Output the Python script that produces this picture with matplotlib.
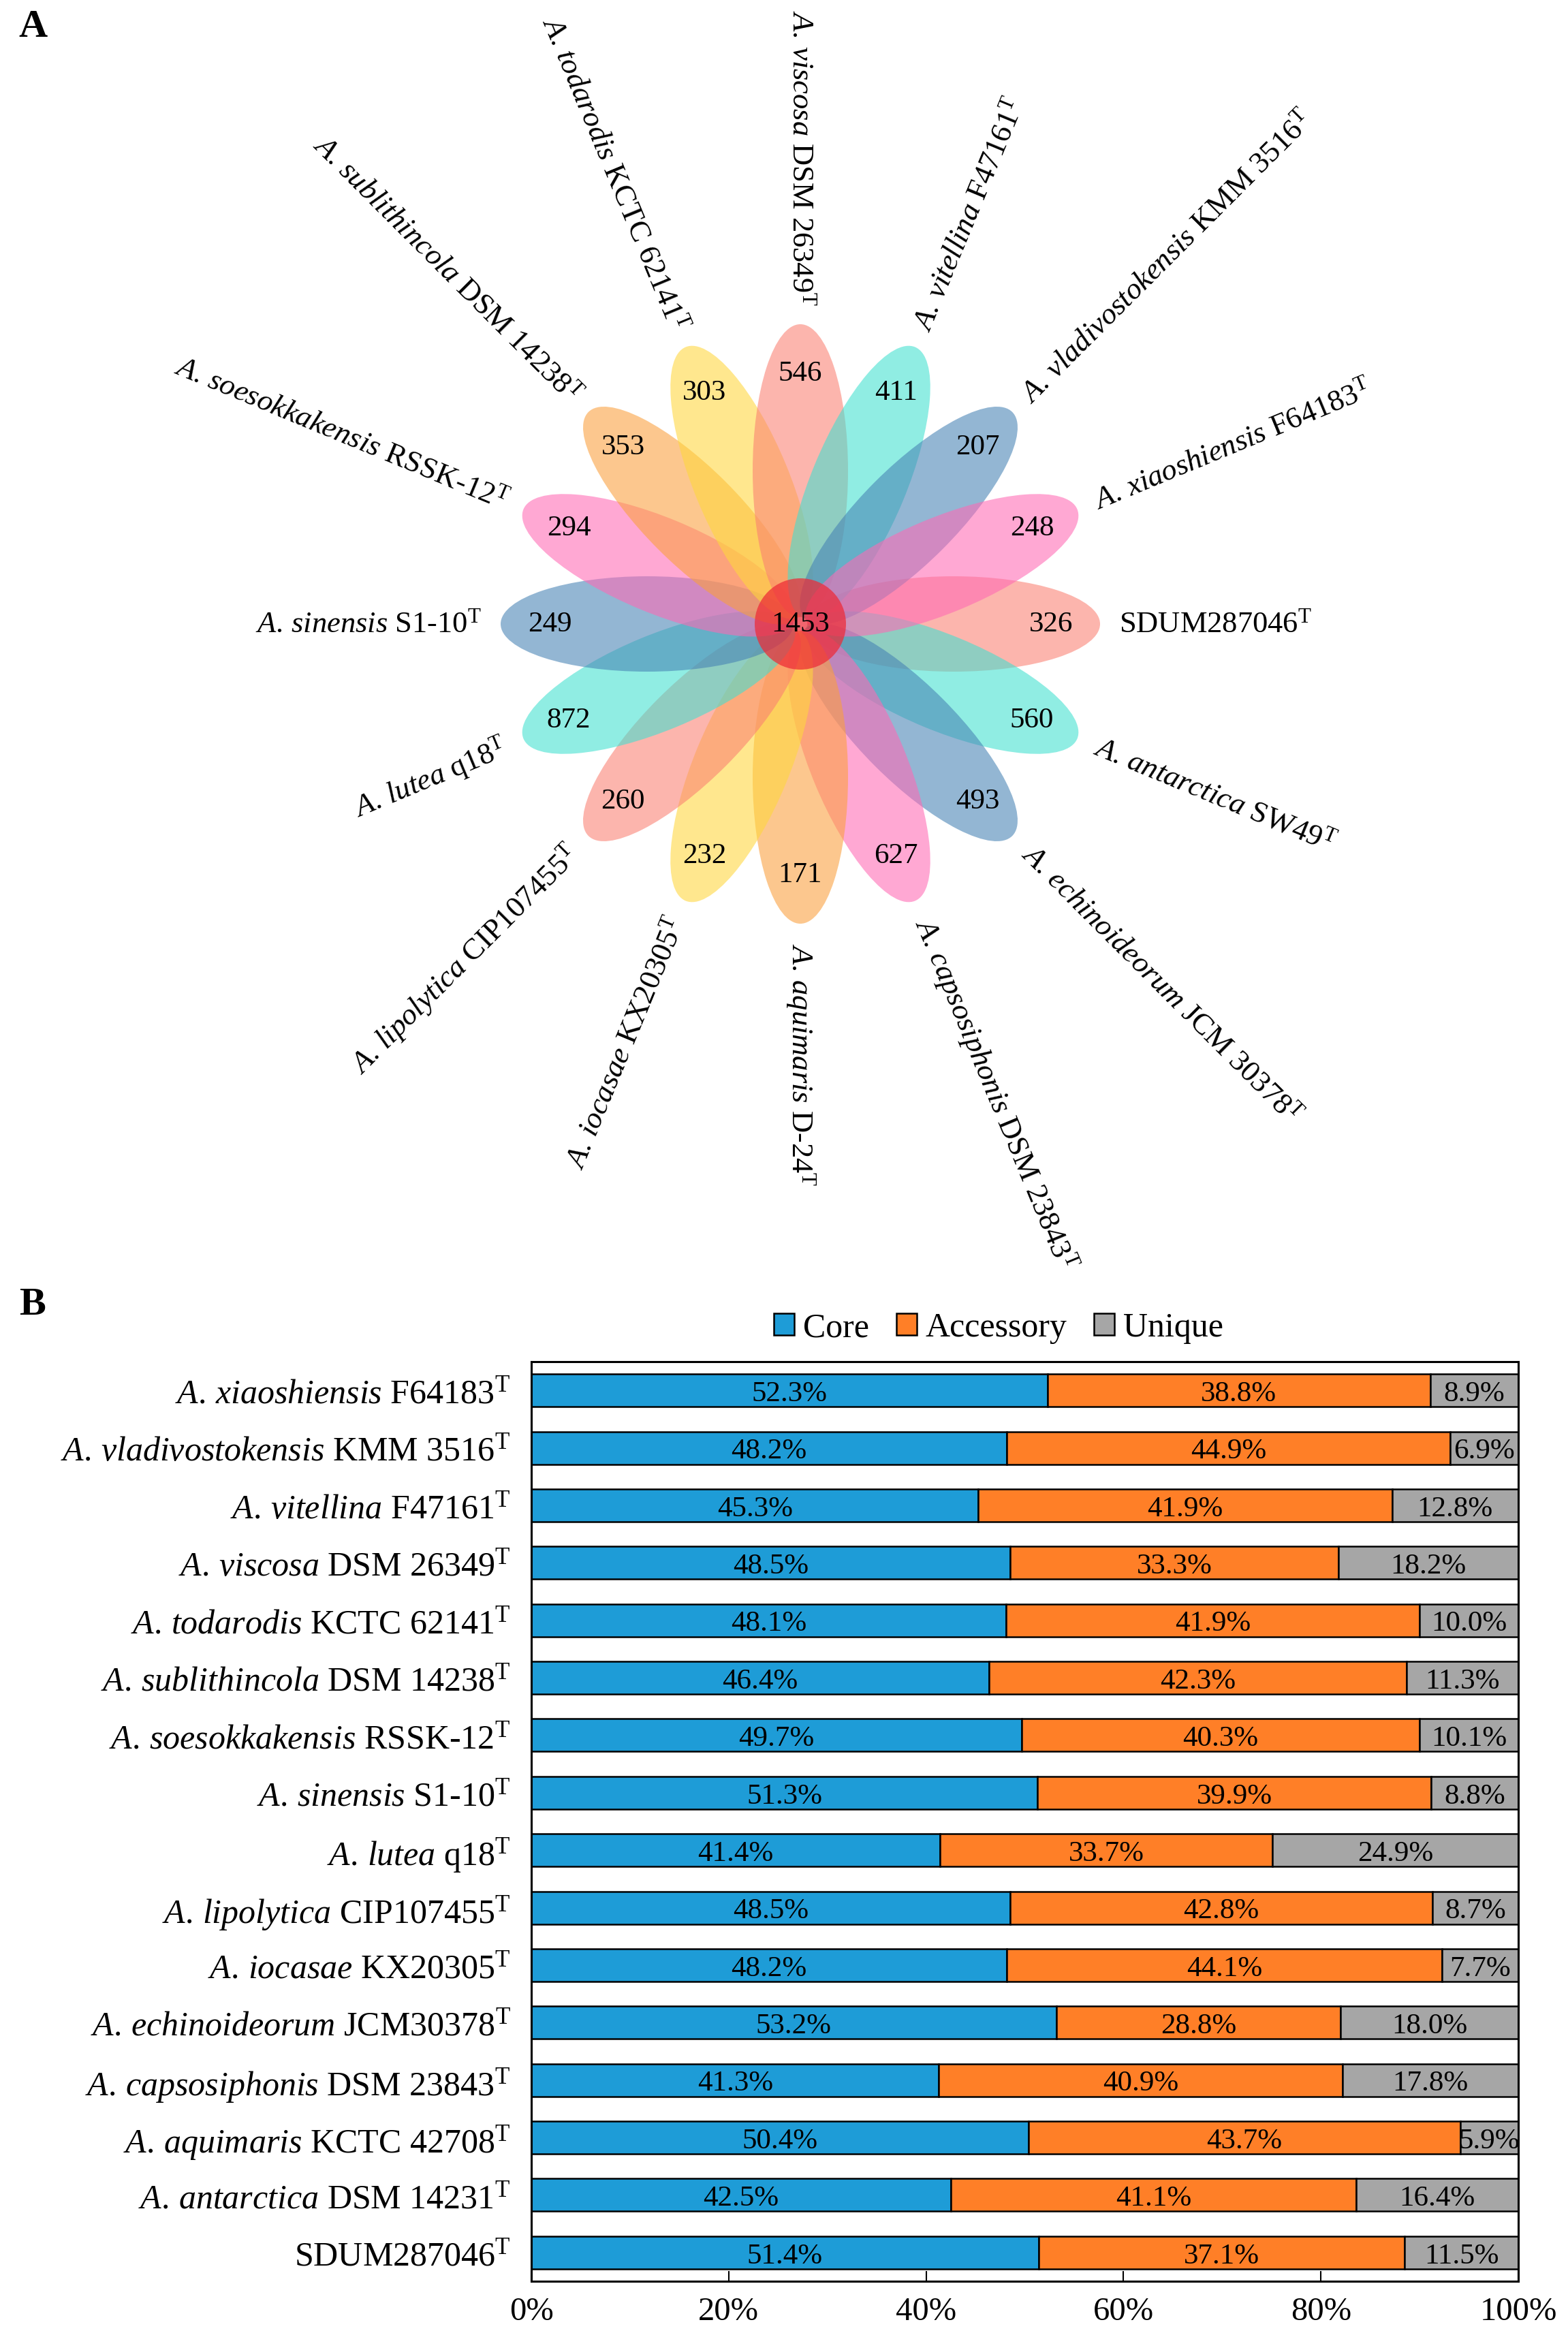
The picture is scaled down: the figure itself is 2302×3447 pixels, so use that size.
import numpy as np
import matplotlib
matplotlib.use("Agg")
import matplotlib.pyplot as plt
from matplotlib.patches import Ellipse, Circle, Patch

plt.rcParams['font.family'] = ['Liberation Serif', 'DejaVu Serif']
plt.rcParams['mathtext.fontset'] = 'custom'
plt.rcParams['mathtext.rm'] = 'Liberation Serif'
plt.rcParams['mathtext.it'] = 'Liberation Serif:italic'
plt.rcParams['mathtext.bf'] = 'Liberation Serif:bold'

# ---------------- data: panel A (flower), clockwise from SDUM287046 ----------------
flower_species = [None, "antarctica", "echinoideorum", "capsosiphonis", "aquimaris",
                  "iocasae", "lipolytica", "lutea", "sinensis", "soesokkakensis",
                  "sublithincola", "todarodis", "viscosa", "vitellina",
                  "vladivostokensis", "xiaoshiensis"]
flower_strains = ["SDUM287046", "SW49", "JCM 30378", "DSM 23843", "D-24",
                  "KX20305", "CIP107455", "q18", "S1-10", "RSSK-12",
                  "DSM 14238", "KCTC 62141", "DSM 26349", "F47161",
                  "KMM 3516", "F64183"]
flower_unique = [326, 560, 493, 627, 171, 232, 260, 872, 249, 294, 353, 303, 546, 411, 207, 248]
core_count = 1453
petal_palette = ["#FA8072", "#40E0D0", "#4682B4", "#FF69B4", "#FAA03C", "#FFD73C"]

# ---------------- data: panel B (stacked bars), top to bottom ----------------
bar_species = ["xiaoshiensis", "vladivostokensis", "vitellina", "viscosa", "todarodis",
               "sublithincola", "soesokkakensis", "sinensis", "lutea", "lipolytica",
               "iocasae", "echinoideorum", "capsosiphonis", "aquimaris", "antarctica", None]
bar_strains = ["F64183", "KMM 3516", "F47161", "DSM 26349", "KCTC 62141",
               "DSM 14238", "RSSK-12", "S1-10", "q18", "CIP107455",
               "KX20305", "JCM30378", "DSM 23843", "KCTC 42708", "DSM 14231", "SDUM287046"]
core = [52.3, 48.2, 45.3, 48.5, 48.1, 46.4, 49.7, 51.3, 41.4, 48.5, 48.2, 53.2, 41.3, 50.4, 42.5, 51.4]
accessory = [38.8, 44.9, 41.9, 33.3, 41.9, 42.3, 40.3, 39.9, 33.7, 42.8, 44.1, 28.8, 40.9, 43.7, 41.1, 37.1]
unique = [8.9, 6.9, 12.8, 18.2, 10.0, 11.3, 10.1, 8.8, 24.9, 8.7, 7.7, 18.0, 17.8, 5.9, 16.4, 11.5]
series_names = ["Core", "Accessory", "Unique"]
series_colors = ["#1E9CD7", "#FF7F27", "#A6A6A6"]
xticks = [0, 20, 40, 60, 80, 100]


def label(sp, strain):
    sup = r"$^{\mathrm{T}}$"
    if sp is None:
        return strain + sup
    return r"$\mathit{A.\," + sp + "}$ " + strain + sup


W, H = 2302, 3448
fig = plt.figure(figsize=(W / 100, H / 100), dpi=100)
fig.patch.set_facecolor("white")

# ---------------- panel A ----------------
axA = fig.add_axes([0, 0, 1, 1])
axA.set_xlim(0, W)
axA.set_ylim(H, 0)
axA.axis("off")

cx, cy = 1175, 917
d_center, a_semi, b_semi = 225, 215, 70
r_num, r_lab = 368, 468
n = len(flower_unique)
for i in range(n):
    theta = -360.0 / n * i  # clockwise
    t = np.deg2rad(theta)
    ux, uy = np.cos(t), -np.sin(t)
    col = petal_palette[i % len(petal_palette)]
    axA.add_patch(Ellipse((cx + d_center * ux, cy + d_center * uy), 2 * a_semi, 2 * b_semi,
                          angle=-theta, facecolor=col, edgecolor="none", alpha=0.58, zorder=2))
for i in range(n):
    theta = (-360.0 / n * i) % 360
    t = np.deg2rad(theta)
    ux, uy = np.cos(t), -np.sin(t)
    axA.text(cx + r_num * ux, cy + r_num * uy, str(flower_unique[i]), fontsize=31,
             ha="center", va="center", zorder=5)
    if 90 <= theta < 270:
        rot, ha = theta - 180, "right"
    else:
        rot, ha = theta, "left"
    axA.text(cx + r_lab * ux, cy + r_lab * uy, label(flower_species[i], flower_strains[i]),
             fontsize=32, rotation=rot, rotation_mode="anchor", ha=ha, va="center", zorder=5)

axA.add_patch(Circle((cx, cy), 67, facecolor="#EE2A36", edgecolor="none", alpha=0.72, zorder=3))
axA.text(cx, cy, str(core_count), fontsize=31, ha="center", va="center", zorder=5)

axA.text(48, 40, "A", fontsize=42, fontweight="bold", ha="center", va="center")
axA.text(48, 1916, "B", fontsize=42, fontweight="bold", ha="center", va="center")

# ---------------- panel B ----------------
axB = fig.add_axes([780 / W, 1 - 3350 / H, (2229 - 780) / W, (3350 - 2000) / H])
y = np.arange(len(core))
core_a = np.array(core)
acc_a = np.array(accessory)
uni_a = np.array(unique)
lefts = [np.zeros_like(core_a), core_a, core_a + acc_a]
vals = [core_a, acc_a, uni_a]
for k in range(3):
    axB.barh(y, vals[k], left=lefts[k], height=0.57, color=series_colors[k],
             edgecolor="black", linewidth=1.8, label=series_names[k], zorder=2)
    for j in range(len(y)):
        axB.text(lefts[k][j] + vals[k][j] / 2, y[j], f"{vals[k][j]:.1f}%",
                 ha="center", va="center_baseline", fontsize=31, zorder=3)

axB.set_xlim(0, 100)
axB.set_ylim(len(core) - 0.5, -0.5)
axB.set_yticks(y)
axB.set_yticklabels([label(s, st) for s, st in zip(bar_species, bar_strains)], fontsize=36)
axB.set_xticks(xticks)
axB.set_xticklabels([f"{v}%" for v in xticks], fontsize=35)
axB.tick_params(axis="x", direction="in", length=11, width=1.5, pad=16)
axB.tick_params(axis="y", length=0, pad=22)
for s in axB.spines.values():
    s.set_linewidth(2.2)
    s.set_color("black")

handles = [Patch(facecolor=series_colors[k], edgecolor="black", linewidth=1.8) for k in range(3)]
fig.legend(handles, series_names, loc="center", bbox_to_anchor=(1466 / W, 1 - 1950 / H),
           ncol=3, frameon=False, fontsize=36, handlelength=0.6, handleheight=0.6,
           handletextpad=0.25, columnspacing=0.8)

fig.savefig("out.png", dpi=100, facecolor="white")
